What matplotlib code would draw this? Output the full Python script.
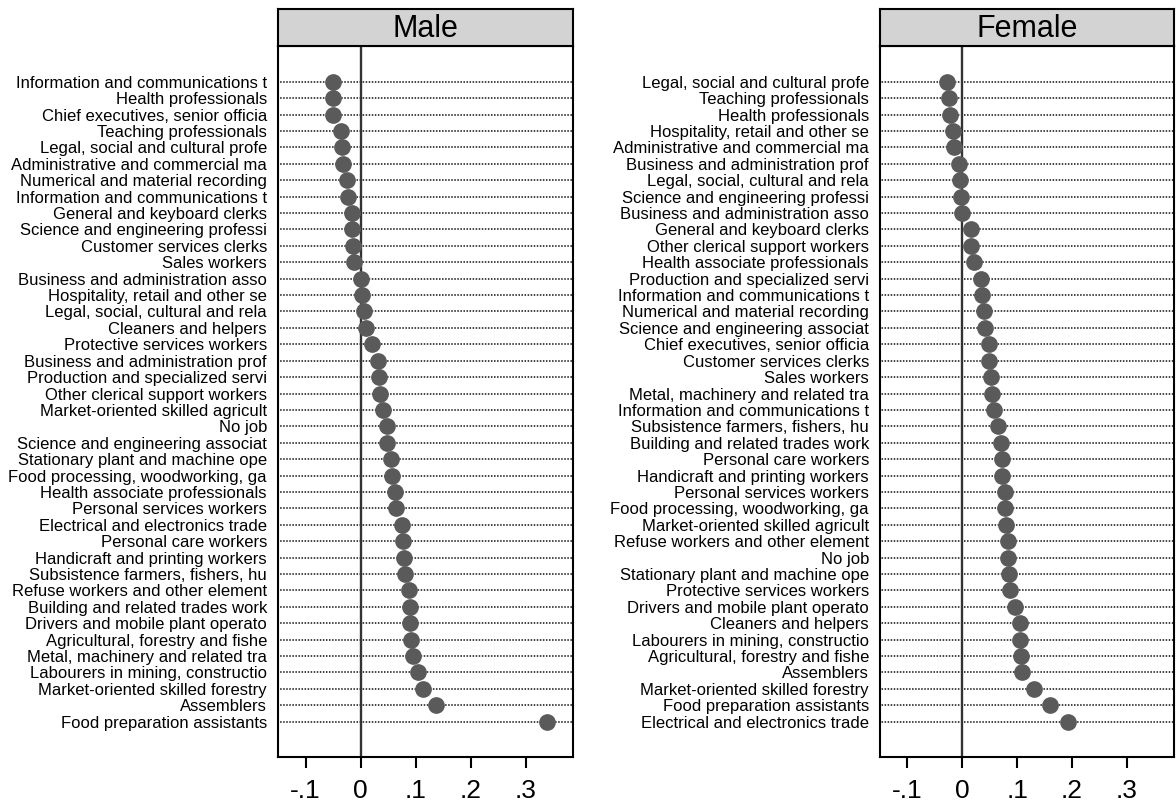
import matplotlib.pyplot as plt
import numpy as np

plt.rcParams['font.family'] = ['Liberation Sans', 'DejaVu Sans']

# Male: categories from top to bottom and their values
male_labels = [
    'Information and communications t', 'Health professionals', 'Chief executives, senior officia',
    'Teaching professionals', 'Legal, social and cultural profe', 'Administrative and commercial ma',
    'Numerical and material recording', 'Information and communications t', 'General and keyboard clerks',
    'Science and engineering professi', 'Customer services clerks', 'Sales workers',
    'Business and administration asso', 'Hospitality, retail and other se', 'Legal, social, cultural and rela',
    'Cleaners and helpers', 'Protective services workers', 'Business and administration prof',
    'Production and specialized servi', 'Other clerical support workers', 'Market-oriented skilled agricult',
    'No job', 'Science and engineering associat', 'Stationary plant and machine ope',
    'Food processing, woodworking, ga', 'Health associate professionals', 'Personal services workers',
    'Electrical and electronics trade', 'Personal care workers', 'Handicraft and printing workers',
    'Subsistence farmers, fishers, hu', 'Refuse workers and other element', 'Building and related trades work',
    'Drivers and mobile plant operato', 'Agricultural, forestry and fishe', 'Metal, machinery and related tra',
    'Labourers in mining, constructio', 'Market-oriented skilled forestry', 'Assemblers',
    'Food preparation assistants',
]
male_values = [
    -0.050, -0.050, -0.050, -0.035, -0.033, -0.032, -0.024, -0.022, -0.016, -0.015,
    -0.013, -0.012, 0.001, 0.002, 0.006, 0.010, 0.021, 0.032, 0.033, 0.036,
    0.041, 0.048, 0.048, 0.056, 0.057, 0.062, 0.064, 0.075, 0.078, 0.079,
    0.080, 0.088, 0.089, 0.090, 0.091, 0.095, 0.105, 0.113, 0.137, 0.338,
]

# Female
female_labels = [
    'Legal, social and cultural profe', 'Teaching professionals', 'Health professionals',
    'Hospitality, retail and other se', 'Administrative and commercial ma', 'Business and administration prof',
    'Legal, social, cultural and rela', 'Science and engineering professi', 'Business and administration asso',
    'General and keyboard clerks', 'Other clerical support workers', 'Health associate professionals',
    'Production and specialized servi', 'Information and communications t', 'Numerical and material recording',
    'Science and engineering associat', 'Chief executives, senior officia', 'Customer services clerks',
    'Sales workers', 'Metal, machinery and related tra', 'Information and communications t',
    'Subsistence farmers, fishers, hu', 'Building and related trades work', 'Personal care workers',
    'Handicraft and printing workers', 'Personal services workers', 'Food processing, woodworking, ga',
    'Market-oriented skilled agricult', 'Refuse workers and other element', 'No job',
    'Stationary plant and machine ope', 'Protective services workers', 'Drivers and mobile plant operato',
    'Cleaners and helpers', 'Labourers in mining, constructio', 'Agricultural, forestry and fishe',
    'Assemblers', 'Market-oriented skilled forestry', 'Food preparation assistants',
    'Electrical and electronics trade',
]
female_values = [
    -0.027, -0.024, -0.022, -0.017, -0.015, -0.006, -0.004, -0.003, 0.000, 0.016,
    0.016, 0.022, 0.035, 0.036, 0.039, 0.041, 0.049, 0.049, 0.052, 0.055,
    0.057, 0.066, 0.071, 0.072, 0.072, 0.077, 0.078, 0.079, 0.083, 0.084,
    0.085, 0.087, 0.096, 0.105, 0.106, 0.107, 0.109, 0.130, 0.160, 0.193,
]

xticks = [-0.1, 0, 0.1, 0.2, 0.3]
xticklabels = ['-.1', '0', '.1', '.2', '.3']

W, H = 1176, 806
fig = plt.figure(figsize=(W / 100, H / 100), dpi=100)


def panel(left, right, title, labels, values):
    top, bottom, head_top = 46, 757, 9
    ax = fig.add_axes([left / W, 1 - bottom / H, (right - left) / W, (bottom - top) / H])
    y = np.arange(1, len(labels) + 1)
    ax.hlines(y, -1, 1, colors='#111111', linestyles=(0, (1, 1)), lw=1.1, zorder=1)
    ax.axvline(0, color='#333333', lw=1.7, zorder=2)
    ax.plot(values, y, 'o', color='#5a5a5a', ms=11, mec='#5a5a5a', zorder=3)
    ax.set_xlim(-0.150, 0.386)
    ax.set_ylim(len(labels) + 2.15, -1.18)
    ax.set_yticks(y)
    ax.set_yticklabels(labels, fontsize=12)
    ax.tick_params(axis='y', length=0, pad=8)
    ax.set_xticks(xticks)
    ax.set_xticklabels(xticklabels, fontsize=19)
    ax.tick_params(axis='x', length=8, width=1.5, pad=8)
    for s in ax.spines.values():
        s.set_linewidth(1.5)

    hx = fig.add_axes([left / W, 1 - top / H, (right - left) / W, (top - head_top) / H])
    hx.set_facecolor('#d3d3d3')
    hx.set_xticks([])
    hx.set_yticks([])
    for s in hx.spines.values():
        s.set_linewidth(1.5)
    hx.text(0.5, 0.45, title, ha='center', va='center', fontsize=22, transform=hx.transAxes)
    return ax


panel(278, 573, 'Male', male_labels, male_values)
panel(880, 1174, 'Female', female_labels, female_values)

fig.savefig('out.png', dpi=100)
